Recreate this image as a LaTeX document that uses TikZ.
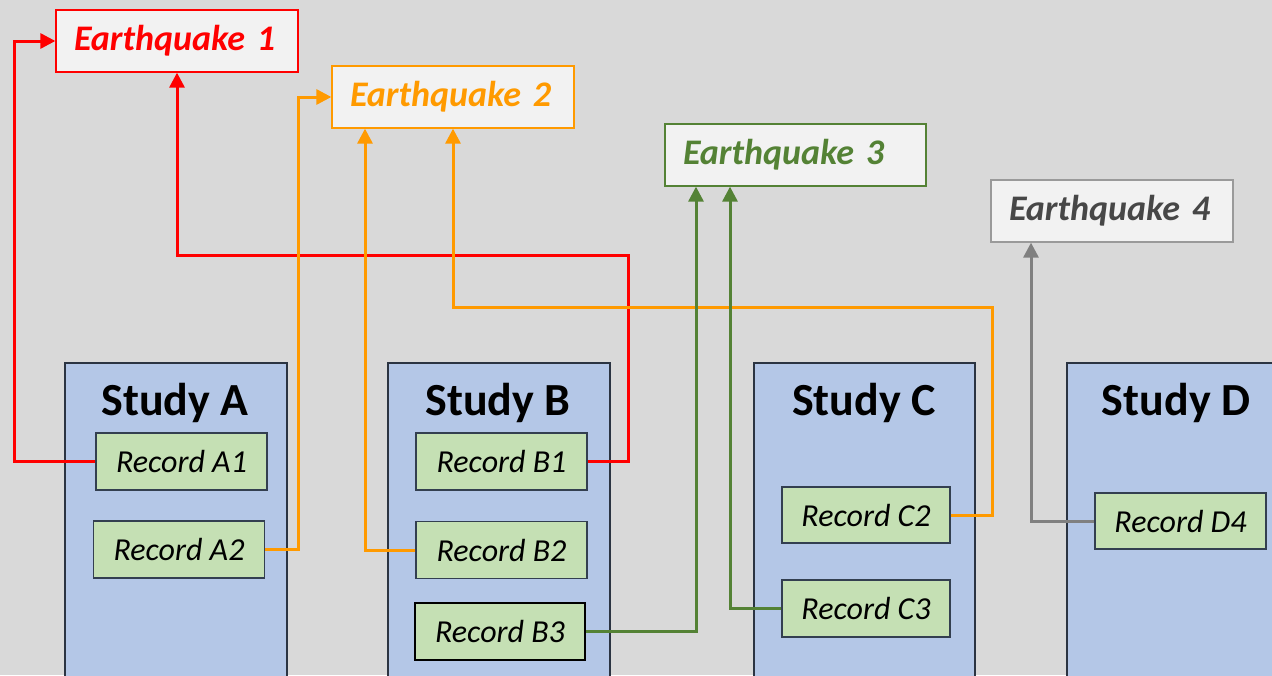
\documentclass[tikz,border=0pt]{standalone}
\usepackage{fontspec}
\setmainfont{Carlito}
\usetikzlibrary{arrows.meta}

\definecolor{bgcol}{HTML}{D9D9D9}
\definecolor{eqfill}{HTML}{F2F2F2}
\definecolor{studyfill}{HTML}{B4C7E7}
\definecolor{studyline}{HTML}{2B3442}
\definecolor{recfill}{HTML}{C5E0B4}
\definecolor{recline}{HTML}{333F50}
\definecolor{cred}{HTML}{FF0000}
\definecolor{corange}{HTML}{FF9A00}
\definecolor{cgreen}{HTML}{548235}
\definecolor{cgray}{HTML}{808080}
\definecolor{cgraytext}{HTML}{474747}
\definecolor{cgrayline}{HTML}{9A9A9A}

\tikzset{
  quake/.style={draw, fill=eqfill, line width=1.3pt, minimum height=62pt,
    inner xsep=18pt, inner ysep=0pt, text width=206pt, align=left,
    font=\fontsize{36}{40}\selectfont\bfseries\itshape},
  studybox/.style={draw=studyline, fill=studyfill, line width=1.6pt,
    minimum width=222pt, minimum height=330pt, anchor=north west},
  studytitle/.style={anchor=base, inner sep=0pt,
    font=\fontsize{46}{50}\selectfont\bfseries},
  record/.style={draw=recline, fill=recfill, line width=1.4pt,
    minimum width=171pt, minimum height=57pt, inner sep=0pt,
    font=\fontsize{32}{36}\selectfont\itshape},
  conn/.style={line width=3pt, -{Triangle[length=15pt,width=15pt]}}
}

\begin{document}
\begin{tikzpicture}[x=1pt,y=-1pt]
  \useasboundingbox (0,0) rectangle (1272,675);
  \clip (0,0) rectangle (1272,675);
  \fill[bgcol] (0,0) rectangle (1272,675);

  % studies
  \node[studybox] (sa) at (64,362) {};
  \node[studybox] (sb) at (387,362) {};
  \node[studybox, minimum width=221pt] (sc) at (753,362) {};
  \node[studybox] (sd) at (1066,362) {};
  \node[studytitle] (ta) at (175,415) {Study A};
  \node[studytitle] (tb) at (498,415) {Study B};
  \node[studytitle] (tc) at (864,415) {Study C};
  \node[studytitle] (td) at (1176,415) {Study D};

  % earthquakes
  \node[quake, draw=cred, text=cred] (eq1) at (177,41) {Earthquake 1};
  \node[quake, draw=corange, text=corange] (eq2) at (453,97) {Earthquake 2};
  \node[quake, draw=cgreen, text=cgreen, text width=225pt] (eq3) at (795.5,155) {Earthquake 3};
  \node[quake, draw=cgrayline, text=cgraytext] (eq4) at (1112,211) {Earthquake 4};

  % bend points of the connectors
  \coordinate (r1) at (14,0);
  \coordinate (r2) at (628,255);
  \coordinate (o1) at (298,0);
  \coordinate (o2) at (365,0);
  \coordinate (o3) at (992,307);
  \coordinate (g1) at (696,0);
  \coordinate (g2) at (730,0);
  \coordinate (k1) at (1031,0);

  % records
  \node[record] (a1) at (181.5,461.5) {Record A1};
  \node[record] (a2) at (179,549.5) {Record A2};
  \node[record] (b1) at (501.5,461.5) {Record B1};
  \node[record] (b2) at (501.5,550) {Record B2};
  \node[record, draw=black, line width=1.8pt, minimum width=170pt] (b3) at (500,631.5) {Record B3};
  \node[record, minimum width=168pt, minimum height=56pt] (c2) at (866,515) {Record C2};
  \node[record, minimum width=168pt] (c3) at (866,608.5) {Record C3};
  \node[record, minimum height=56pt] (d4) at (1180.5,521) {Record D4};

  % red links
  \draw[conn, cred] (a1.west) -- (a1.west -| r1) |- (eq1.west);
  \draw[conn, cred] (b1.east) -- (b1.east -| r2) -- (r2) -| (eq1.south);
  % orange links
  \draw[conn, corange] (a2.east) -- (a2.east -| o1) |- (eq2.west);
  \draw[conn, corange] (b2.west) -| (o2 |- eq2.south);
  \draw[conn, corange] (c2.east) -- (c2.east -| o3) -- (o3) -| (eq2.south);
  % green links
  \draw[conn, cgreen] (b3.east) -| (g1 |- eq3.south);
  \draw[conn, cgreen] (c3.west) -| (g2 |- eq3.south);
  % gray link
  \draw[conn, cgray] (d4.west) -| (k1 |- eq4.south);
\end{tikzpicture}
\end{document}
